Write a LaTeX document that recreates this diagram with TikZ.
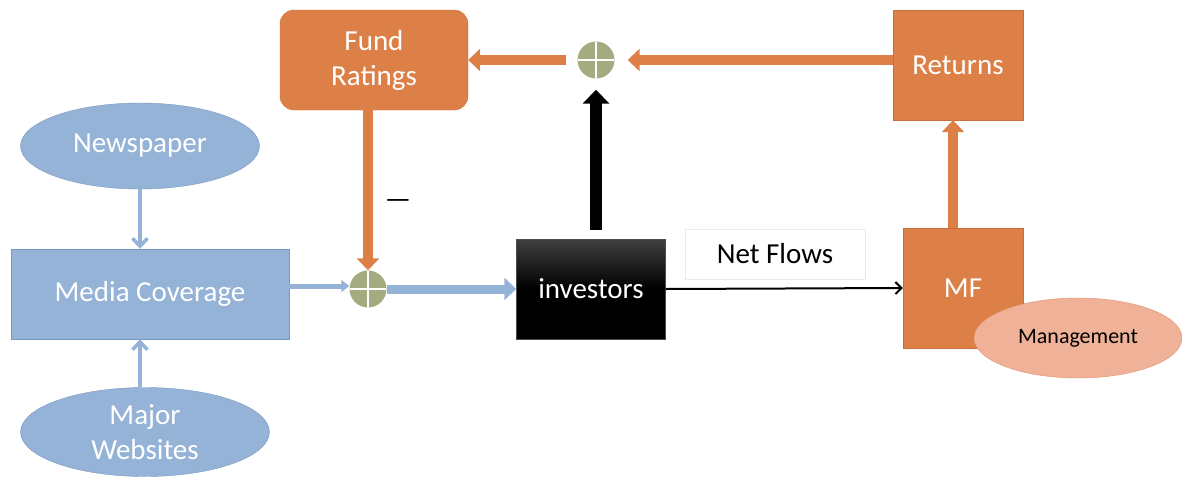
\documentclass[tikz,border=0pt]{standalone}
\usepackage{fontspec}
\setmainfont{Carlito}
\usetikzlibrary{arrows.meta,shapes.geometric,positioning}

\definecolor{mediablue}{RGB}{149,179,215}
\definecolor{mediaedge}{RGB}{122,152,190}
\definecolor{fundorange}{RGB}{221,128,71}
\definecolor{fundedge}{RGB}{200,110,58}
\definecolor{sumolive}{RGB}{165,171,129}
\definecolor{mgmtsalmon}{RGB}{239,178,152}
\definecolor{mgmtedge}{RGB}{226,142,108}

\begin{document}
\begin{tikzpicture}[
  x=1pt,y=-1pt,
  every node/.style={font=\fontsize{29}{35}\selectfont},
  mediabox/.style={draw=mediaedge,fill=mediablue,text=white,minimum width=278pt,minimum height=90pt},
  source/.style={ellipse,draw=mediaedge,fill=mediablue,text=white,align=center,inner sep=0pt},
  flowbox/.style={draw=fundedge,fill=fundorange,text=white,align=center},
  sumdot/.style={circle,fill=sumolive,minimum size=37pt,inner sep=0pt,
    path picture={\draw[white,line width=2.5pt]
      (path picture bounding box.north) -- (path picture bounding box.south)
      (path picture bounding box.west) -- (path picture bounding box.east);}},
  orangearrow/.style={fundorange,line width=10pt,-{Triangle[width=22pt,length=12pt]}},
  bluearrow/.style={mediablue,line width=9pt,-{Triangle[width=22pt,length=12pt]}},
  bluethin/.style={mediablue,line width=3.5pt,-{Straight Barb[width=15pt,length=8pt,line width=3.5pt]}},
  bluemid/.style={mediablue,line width=5pt,-{Triangle[width=12pt,length=8pt]}},
  flowline/.style={black,line width=2pt,-{Straight Barb[width=12pt,length=6pt,line width=2pt]}}
]
  \useasboundingbox (0,0) rectangle (1182,479);

  \node[flowbox,rounded corners=14pt,minimum width=188pt,minimum height=100pt] (ratings) at (374,60) {Fund\\Ratings};
  \node[sumdot] (topsum) at (596,60) {};
  \node[flowbox,minimum width=130pt,minimum height=110pt] (returns) at (958,65) {Returns};

  \node[source,minimum width=239pt,minimum height=86pt] (news) at (140,146) {Newspaper};
  \node[mediabox] (media) at (150,294) {Media Coverage};
  \node[source,minimum width=249pt,minimum height=89pt] (sites) at (145,432) {Major\\Websites};

  \node[sumdot] (lowsum) at (368,289) {};
  \node[draw=black!70,top color=black!75,bottom color=black,middle color=black,text=white,
    minimum width=149pt,minimum height=100pt] (investors) at (591,289) {investors};
  \node[draw=mediablue!25,fill=white,minimum width=180pt,minimum height=50pt] (netflows) at (775,254) {Net Flows};
  \node[flowbox,minimum width=120pt,minimum height=120pt] (mf) at (963,288) {MF};
  \node[ellipse,draw=mgmtedge,fill=mgmtsalmon,inner sep=0pt,minimum width=208pt,minimum height=80pt,
    font=\fontsize{22}{26}\selectfont] (mgmt) at (1078,338) {Management};
  \node[font=\fontsize{29}{29}\selectfont] (minus) at (398,204) {—};

  % feedback loop along the top
  \draw[orangearrow] (returns.west |- topsum) -- ([xshift=13pt]topsum.east);
  \draw[orangearrow] ([xshift=-11pt]topsum.west) -- (ratings.east |- topsum);
  \draw[orangearrow] (lowsum |- ratings.south) -- (lowsum.north);
  \draw[black,line width=12pt,-{Triangle[width=26pt,length=14pt]}]
    ([yshift=9pt]investors.north -| topsum) -- ([yshift=-11pt]topsum.south);
  \draw[orangearrow] ([xshift=-10pt]mf.north) -- ([xshift=-10pt]mf.north |- returns.south);

  % media inputs
  \draw[bluethin] (news.south) -- (news.south |- media.north);
  \draw[bluethin] (news.south |- sites.north) -- (news.south |- media.south);
  \draw[bluemid] ([yshift=8pt]media.east) -- ([yshift=8pt]media.east -| lowsum.west);
  \draw[bluearrow] (lowsum.east) -- (investors.west);
  \draw[flowline] (investors.east) -- (mf.west);
\end{tikzpicture}
\end{document}
